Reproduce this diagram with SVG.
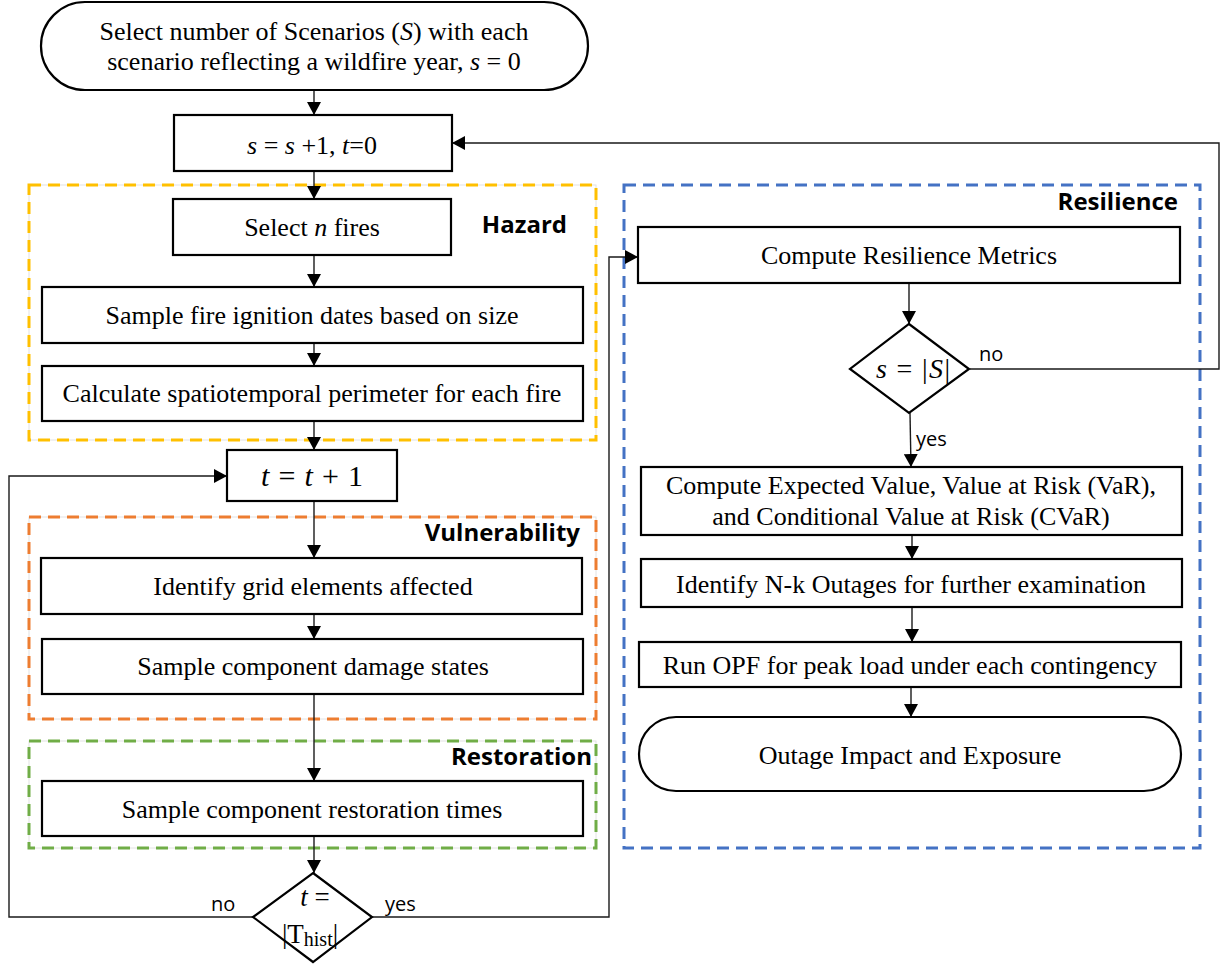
<svg xmlns="http://www.w3.org/2000/svg" width="1230" height="967" viewBox="0 0 1230 967">
<style>
.box{fill:#fff;stroke:#000;stroke-width:2.2}
.grp{fill:none;stroke-width:3;stroke-dasharray:12 7}
.ghost{fill:none;stroke:#e2e2e2;stroke-width:1}
.t{font-family:"Liberation Serif","Times New Roman",serif;font-size:26px;fill:#000;text-anchor:middle}
.m{font-family:"Liberation Serif","Times New Roman",serif;fill:#000;text-anchor:middle}
.lbl{font-family:"Open Sans","Noto Sans",sans-serif;font-weight:bold;font-size:24px;fill:#000;text-anchor:end}
.yn{font-family:"Open Sans","Noto Sans",sans-serif;font-size:20px;fill:#000}
.c{fill:none;stroke:#1a1a1a;stroke-width:1.4}
</style>
<defs>
<marker id="ah" viewBox="0 0 13 14" refX="13" refY="7" markerWidth="13" markerHeight="14" markerUnits="userSpaceOnUse" orient="auto">
<path d="M0,0 L13,7 L0,14 z" fill="#000"/>
</marker>
</defs>

<rect width="1230" height="967" fill="#fff"/>

<g id="groups">
<rect class="ghost" x="29" y="185" width="567" height="255"/>
<rect class="grp" x="29" y="185" width="567" height="255" stroke="#FFC000"/>
<rect class="ghost" x="29" y="517" width="567" height="202"/>
<rect class="grp" x="29" y="517" width="567" height="202" stroke="#ED7D31"/>
<rect class="ghost" x="29" y="741" width="567" height="107"/>
<rect class="grp" x="29" y="741" width="567" height="107" stroke="#70AD47"/>
<rect class="grp" x="624" y="185" width="576" height="663" stroke="#4472C4"/>
<text class="lbl" x="567" y="233">Hazard</text>
<text class="lbl" x="580" y="541">Vulnerability</text>
<text class="lbl" x="592" y="765">Restoration</text>
<text class="lbl" x="1178" y="210">Resilience</text>
</g>

<g id="connectors">
<line class="c" x1="314" y1="90" x2="314" y2="115" marker-end="url(#ah)"/>
<line class="c" x1="314" y1="171" x2="314" y2="199" marker-end="url(#ah)"/>
<line class="c" x1="314" y1="255" x2="314" y2="287" marker-end="url(#ah)"/>
<line class="c" x1="314" y1="343" x2="314" y2="366" marker-end="url(#ah)"/>
<line class="c" x1="314" y1="421" x2="314" y2="450" marker-end="url(#ah)"/>
<line class="c" x1="314" y1="501" x2="314" y2="558" marker-end="url(#ah)"/>
<line class="c" x1="314" y1="614" x2="314" y2="639" marker-end="url(#ah)"/>
<line class="c" x1="314" y1="694" x2="314" y2="781" marker-end="url(#ah)"/>
<line class="c" x1="314" y1="836" x2="314" y2="873" marker-end="url(#ah)"/>
<polyline class="c" points="253,917 9,917 9,476 227,476" marker-end="url(#ah)"/>
<polyline class="c" points="372,917 609,917 609,257 638,257" marker-end="url(#ah)"/>
<line class="c" x1="909" y1="283" x2="909" y2="324" marker-end="url(#ah)"/>
<polyline class="c" points="970,369 1219,369 1219,143 452,143" marker-end="url(#ah)"/>
<line class="c" x1="910" y1="413" x2="911" y2="467" marker-end="url(#ah)"/>
<line class="c" x1="912" y1="535" x2="912" y2="559" marker-end="url(#ah)"/>
<line class="c" x1="912" y1="607" x2="912" y2="642" marker-end="url(#ah)"/>
<line class="c" x1="911" y1="687" x2="911" y2="717" marker-end="url(#ah)"/>
<text class="yn" x="211" y="911">no</text>
<text class="yn" x="385" y="911">yes</text>
<text class="yn" x="979" y="361">no</text>
<text class="yn" x="916" y="446">yes</text>
</g>

<g id="start">
<rect class="box" x="41" y="2" width="547" height="88" rx="44" ry="44"/>
<text class="t" x="314" y="40">Select number of Scenarios (<tspan font-style="italic">S</tspan>) with each</text>
<text class="t" x="314" y="70">scenario reflecting a wildfire year, <tspan font-style="italic">s</tspan> = 0</text>
</g>

<g id="s-increment">
<rect class="box" x="174" y="115" width="278" height="56"/>
<text class="t" x="312" y="154"><tspan font-style="italic">s</tspan> = <tspan font-style="italic">s</tspan> +1, <tspan font-style="italic">t</tspan>=0</text>
</g>

<g id="select-fires">
<rect class="box" x="173" y="199" width="278" height="56"/>
<text class="t" x="312" y="236">Select <tspan font-style="italic">n</tspan> fires</text>
</g>

<g id="sample-ignition">
<rect class="box" x="42" y="287" width="541" height="56"/>
<text class="t" x="312" y="324">Sample fire ignition dates based on size</text>
</g>

<g id="perimeter">
<rect class="box" x="42" y="366" width="541" height="55"/>
<text class="t" x="312" y="402">Calculate spatiotemporal perimeter for each fire</text>
</g>

<g id="t-increment">
<rect class="box" x="227" y="450" width="170" height="51"/>
<text class="m" x="312" y="486" font-size="30" textLength="102" lengthAdjust="spacing"><tspan font-style="italic">t</tspan> = <tspan font-style="italic">t</tspan> + 1</text>
</g>

<g id="identify-grid">
<rect class="box" x="41" y="558" width="541" height="56"/>
<text class="t" x="313" y="595">Identify grid elements affected</text>
</g>

<g id="damage-states">
<rect class="box" x="42" y="639" width="541" height="55"/>
<text class="t" x="313" y="675">Sample component damage states</text>
</g>

<g id="restoration-times">
<rect class="box" x="42" y="781" width="541" height="55"/>
<text class="t" x="312" y="818">Sample component restoration times</text>
</g>

<g id="t-check">
<polygon class="box" points="313,873 372,917 313,962 253,917"/>
<text class="m" x="315" y="906" font-size="27"><tspan font-style="italic">t</tspan> =</text>
<text class="m" x="310" y="943" font-size="27">|T<tspan font-size="20" dy="3">hist</tspan><tspan dy="-3">|</tspan></text>
</g>

<g id="resilience-metrics">
<rect class="box" x="638" y="227" width="542" height="56"/>
<text class="t" x="909" y="264">Compute Resilience Metrics</text>
</g>

<g id="s-check">
<polygon class="box" points="909,324 969,369 909,413 850,369"/>
<text class="m" x="913" y="378" font-size="28" textLength="74" lengthAdjust="spacing"><tspan font-style="italic">s</tspan> = |<tspan font-style="italic">S</tspan>|</text>
</g>

<g id="expected-value">
<rect class="box" x="641" y="467" width="541" height="68"/>
<text class="t" x="911" y="494">Compute Expected Value, Value at Risk (VaR),</text>
<text class="t" x="911" y="525">and Conditional Value at Risk (CVaR)</text>
</g>

<g id="nk-outages">
<rect class="box" x="641" y="559" width="541" height="48"/>
<text class="t" x="911" y="593">Identify N-k Outages for further examination</text>
</g>

<g id="run-opf">
<rect class="box" x="639" y="642" width="542" height="45"/>
<text class="t" x="910" y="674">Run OPF for peak load under each contingency</text>
</g>

<g id="outage-impact">
<rect class="box" x="639" y="717" width="542" height="74" rx="37" ry="37"/>
<text class="t" x="910" y="764">Outage Impact and Exposure</text>
</g>
</svg>
